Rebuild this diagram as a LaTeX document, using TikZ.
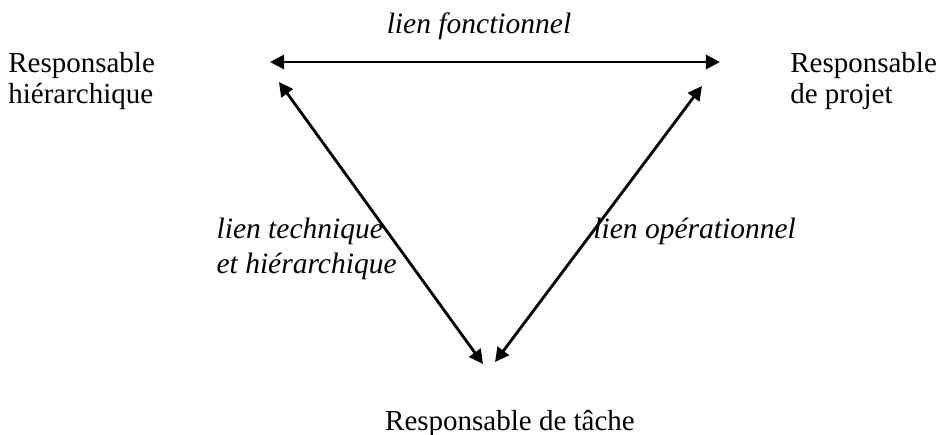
\documentclass[tikz,border=0pt]{standalone}
\usepackage{fontspec}
\setmainfont{Liberation Serif}
\usetikzlibrary{arrows.meta}
\tikzset{x=0.02cm, y=-0.02cm,
role/.style={ % Sets the properties for each person
inner sep=0pt,
align=left,
font=\fontsize{16.5}{17.8}\selectfont},
link/.style={ % Sets the properties for each label of a link
inner sep=0pt,
align=left,
font=\fontsize{16.8}{20}\selectfont\itshape},
every edge/.style={ % Sets the properties for each connector
draw,
{Triangle[length=8pt,width=8pt]}-{Triangle[length=8pt,width=8pt]},
line width=1.6pt}}

\begin{document}
\begin{tikzpicture}
\useasboundingbox (0,0) rectangle (938,434);
\node[role, anchor=base west] (hier) at (8,72) {Responsable};
\node[role, anchor=base west] (hier2) at (8,103) {hiérarchique};
\node[role, anchor=base west] (projet) at (790,72) {Responsable};
\node[role, anchor=base west] (projet2) at (790,103) {de projet};
\node[role, anchor=base] (tache) at (510,430) {Responsable de tâche};
\coordinate (hl) at (270,62);
\coordinate (hr) at (720,62);
\coordinate (lt) at (279,82);
\coordinate (lb) at (483,364);
\coordinate (rt) at (702,86);
\coordinate (rb) at (495,362);
\draw (hl) edge (hr);
\draw (lt) edge (lb);
\draw (rt) edge (rb);
\node[link, anchor=base] (fonct) at (479,33) {lien fonctionnel};
\node[link, anchor=base east] (techn) at (397,273) {et hiérarchique};
\node[link, anchor=base west] (techn2) at (techn.base west |- 0,238) {lien technique};
\node[link, anchor=base west] (oper) at (593,238) {lien opérationnel};
\end{tikzpicture}
\end{document}
